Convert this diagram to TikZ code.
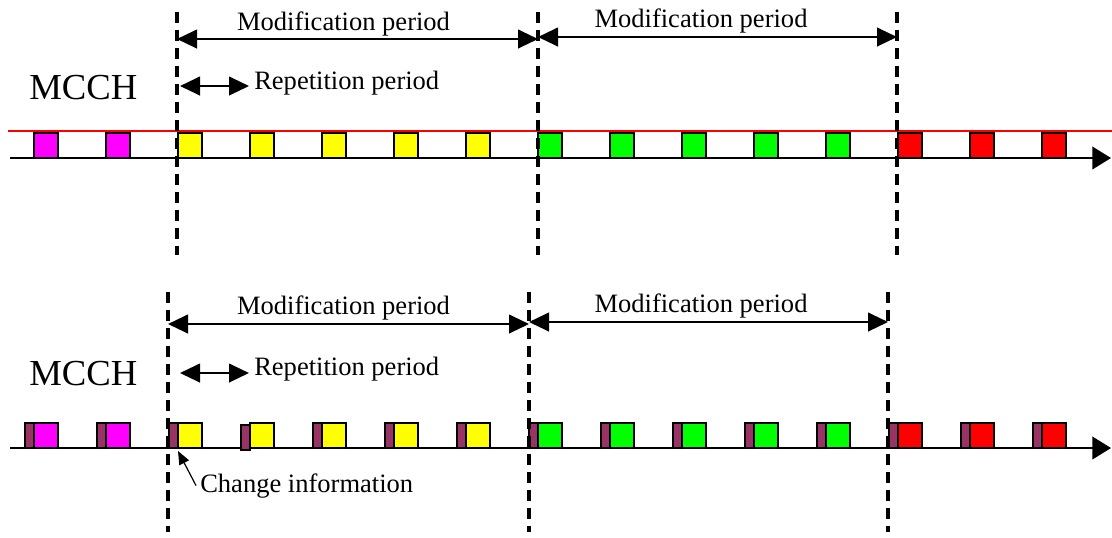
\documentclass[tikz,border=0pt]{standalone}
\usepackage{fontspec}
\setmainfont{Liberation Serif}
\usetikzlibrary{arrows.meta}
\definecolor{plum}{HTML}{993366}
\definecolor{mag}{HTML}{FF00FF}
\definecolor{yel}{HTML}{FFFF00}
\definecolor{grn}{HTML}{00FF00}
\definecolor{rd}{HTML}{FF0000}
\begin{document}
\begin{tikzpicture}[x=0.75pt,y=-0.75pt,
  lbl/.style={inner sep=0pt, font=\fontsize{19.9}{24}\selectfont},
  chan/.style={inner sep=0pt, font=\fontsize{27.5}{33}\selectfont},
  bound/.style={line width=2.4pt, dash pattern=on 8pt off 5.5pt},
  span/.style={line width=1.6pt, {Triangle[length=15pt,width=14pt]}-{Triangle[length=15pt,width=14pt]}},
  axis/.style={line width=1.2pt, -{Triangle[length=14pt,width=17pt]}},
  pointer/.style={line width=0.9pt, -{Triangle[length=10pt,width=8pt]}},
  slot/.style={draw=black, line width=1.2pt, minimum width=18pt, minimum height=18.75pt,
    inner sep=0pt, outer sep=0pt, anchor=south west},
  tabbox/.style={draw=black, line width=1.2pt, fill=plum, minimum width=6.75pt, minimum height=18.75pt,
    inner sep=0pt, outer sep=0pt, anchor=south east}
]
\useasboundingbox (0,0) rectangle (1112,537);

% ---------- upper timeline ----------
\coordinate (r0) at (8,131);
\coordinate (r1) at (1112,131);
\draw[rd, line width=1.1pt] (r0) -- (r1);
\coordinate (ta0) at (10,158);
\coordinate (ta1) at (1111,158);
\draw[axis] (ta0) -- (ta1);
\foreach \k/\c in {0/mag,1/mag,2/yel,3/yel,4/yel,5/yel,6/yel,7/grn,8/grn,9/grn,10/grn,11/grn,12/rd,13/rd,14/rd}
  \node[slot, fill=\c] (t\k) at ({34+72*\k},158) {};

\foreach \n/\x in {1/177,2/538,3/897} {
  \coordinate (td\n a) at (\x,12);
  \coordinate (td\n b) at (\x,255);
  \draw[bound] (td\n a) -- (td\n b);
}
\coordinate (tm1a) at (177,39);  \coordinate (tm1b) at (538,39);
\coordinate (tm2a) at (538,37);  \coordinate (tm2b) at (897,37);
\draw[span] (tm1a) -- (tm1b);
\draw[span] (tm2a) -- (tm2b);
\node[lbl, anchor=base] (tml1) at (343.5,30) {Modification period};
\node[lbl, anchor=base] (tml2) at (701,27) {Modification period};
\coordinate (trp0) at (180,86);  \coordinate (trp1) at (249,86);
\draw[span] (trp0) -- (trp1);
\node[lbl, anchor=base west] (trl) at (254,89) {Repetition period};
\node[chan, anchor=base west] (tch) at (29,99) {MCCH};

% ---------- lower timeline ----------
\coordinate (ba0) at (10,448);
\coordinate (ba1) at (1111,448);
\draw[axis] (ba0) -- (ba1);
\foreach \k/\c in {0/mag,1/mag,2/yel,4/yel,5/yel,6/yel,7/grn,8/grn,9/grn,10/grn,11/grn,12/rd,13/rd,14/rd} {
  \node[slot, fill=\c] (b\k) at ({34+72*\k},448) {};
  \node[tabbox] (c\k) at (b\k.south west) {};
}
\node[slot, fill=yel] (b3) at (250,448) {};
\node[tabbox] (c3) at ([yshift=-1.5pt]b3.south west) {};

\foreach \n/\x in {1/168,2/529,3/888} {
  \coordinate (bd\n a) at (\x,292);
  \coordinate (bd\n b) at (\x,532);
  \draw[bound] (bd\n a) -- (bd\n b);
}
\coordinate (bm1a) at (168,324);  \coordinate (bm1b) at (529,324);
\coordinate (bm2a) at (529,322);  \coordinate (bm2b) at (888,322);
\draw[span] (bm1a) -- (bm1b);
\draw[span] (bm2a) -- (bm2b);
\node[lbl, anchor=base] (bml1) at (343.5,314) {Modification period};
\node[lbl, anchor=base] (bml2) at (701,312) {Modification period};
\coordinate (brp0) at (180,373);  \coordinate (brp1) at (249,373);
\draw[span] (brp0) -- (brp1);
\node[lbl, anchor=base west] (brl) at (254,375) {Repetition period};
\node[chan, anchor=base west] (bch) at (29,385) {MCCH};

\node[lbl, anchor=base west] (ci) at (200,492) {Change information};
\coordinate (citip) at (178,451);
\draw[pointer] ([xshift=-3pt]ci.west) -- (citip);
\end{tikzpicture}
\end{document}
